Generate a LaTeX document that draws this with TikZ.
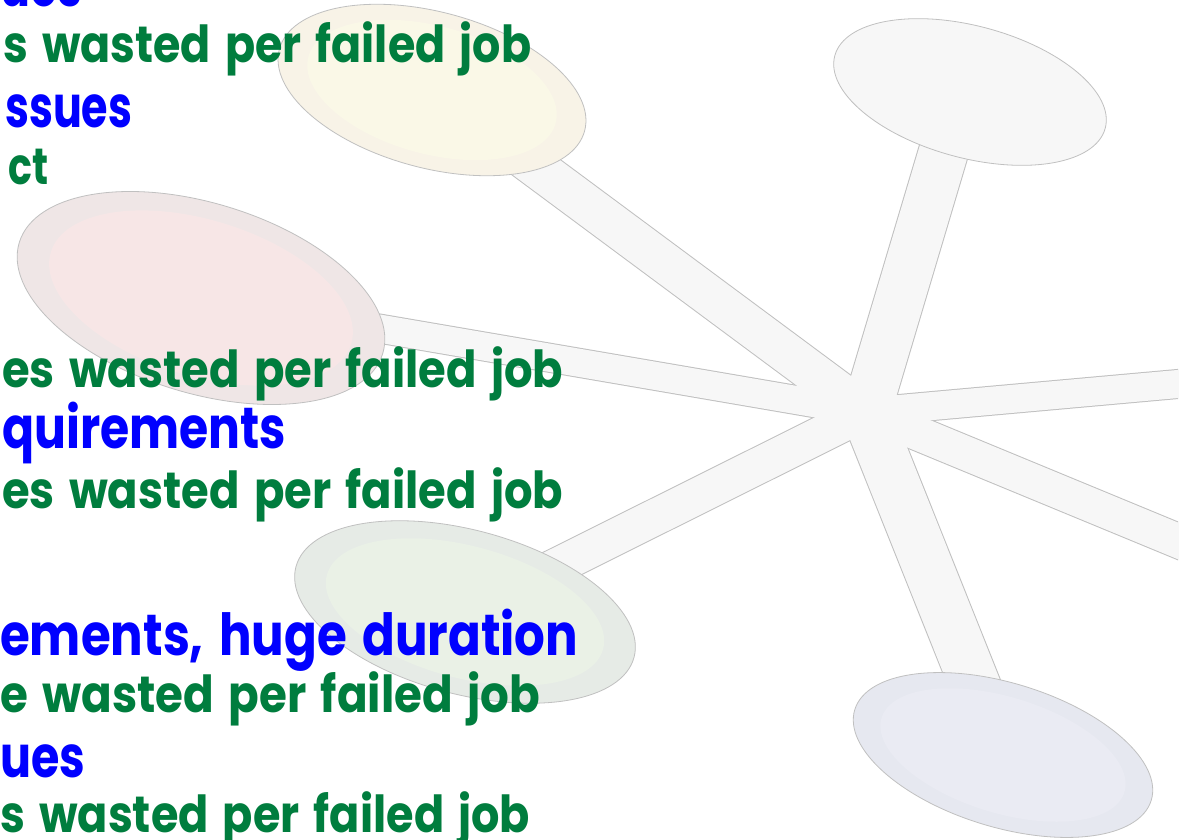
\documentclass[tikz,border=0pt]{standalone}
\usepackage{graphicx}
\usepackage{fontspec}
\usetikzlibrary{shapes.geometric}
\newfontfamily\handfont{Poppins}[WordSpace=1.5]

\definecolor{tgreen}{RGB}{0,125,62}
\definecolor{tblue}{RGB}{0,0,255}
\definecolor{spokefill}{RGB}{247,247,247}
\definecolor{spokeline}{RGB}{192,192,192}
\definecolor{yelout}{RGB}{248,243,231}
\definecolor{yelin}{RGB}{250,248,231}
\definecolor{pnkout}{RGB}{239,230,230}
\definecolor{pnkin}{RGB}{247,230,230}
\definecolor{grnout}{RGB}{230,235,230}
\definecolor{grnin}{RGB}{234,241,230}
\definecolor{gryout}{RGB}{247,247,247}
\definecolor{lavout}{RGB}{230,232,240}
\definecolor{lavin}{RGB}{234,235,243}

% a text line stretched or squeezed to a given width, height kept
\newcommand\fitline[2]{\resizebox{#1pt}{\height}{#2}}

\tikzset{
  blob/.style={ellipse, inner sep=0pt, outer sep=0pt, rotate=-15},
  blobrim/.style={blob, draw=spokeline, line width=0.8pt},
  hubedge/.style={draw=spokeline, line cap=butt},
  hubbody/.style={draw=spokefill, line cap=butt},
  bigline/.style={text=tblue, inner sep=0pt, anchor=base west,
    font=\handfont\bfseries\fontsize{58}{66}\selectfont},
  smallline/.style={text=tgreen, inner sep=0pt, anchor=base west,
    font=\handfont\bfseries\fontsize{51}{60}\selectfont},
}

\begin{document}
\begin{tikzpicture}[x=1pt, y=-1pt]
\useasboundingbox (0,0) rectangle (1189,840);
\fill[white] (0,0) rectangle (1189,840);

% hub and the far ends of its spokes
\coordinate (H) at (866,412);
\coordinate (cY) at (432,90);
\coordinate (cP) at (201,298);
\coordinate (cG) at (465,612);
\coordinate (cW) at (950,130);
\coordinate (cL) at (1003,755);
\coordinate (eR) at (1200,382);
\coordinate (eD) at (1200,550);

\begin{scope}
  \clip (0,0) rectangle (1178,840);
  \foreach \e/\wo in {cY/42, cP/30, cG/38, cW/51, cL/52, eR/30, eD/36}
    \draw[hubedge, line width=\wo pt] (H) -- (\e);
  \foreach \e/\wi in {cY/40, cP/28, cG/36, cW/49, cL/50, eR/28, eD/34}
    \draw[hubbody, line width=\wi pt] (H) -- (\e);
  \fill[spokefill] (H) circle (30pt);
\end{scope}

% coloured discs at the spoke ends
\node[blobrim, fill=yelout, minimum width=316pt, minimum height=156pt] (yel) at (cY) {};
\node[blob, fill=yelin, minimum width=256pt, minimum height=128pt] (yelI) at (cY) {};

\node[blobrim, fill=pnkout, minimum width=380pt, minimum height=190pt, rotate=-2] (pnk) at (cP) {};
\node[blob, fill=pnkin, minimum width=314pt, minimum height=156pt, rotate=-2] (pnkI) at (cP) {};

\node[blobrim, fill=grnout, minimum width=350pt, minimum height=164pt] (grn) at (cG) {};
\node[blob, fill=grnin, minimum width=286pt, minimum height=132pt] (grnI) at (cG) {};

\node[blobrim, fill=gryout, minimum width=280pt, minimum height=132pt] (gry) at (970,92) {};

\node[blobrim, fill=lavout, minimum width=310pt, minimum height=144pt, rotate=-2] (lav) at (cL) {};
\node[blob, fill=lavin, minimum width=254pt, minimum height=116pt, rotate=-2] (lavI) at (cL) {};

% text lines
\node[bigline]   (t1)  at (0,7)     {\fitline{82}{ues}};
\node[smallline] (t2)  at (3,63)    {\fitline{528}{s wasted per failed job}};
\node[bigline]   (t3)  at (5,128)   {\fitline{127}{ssues}};
\node[smallline] (t4)  at (8,185)   {\fitline{40}{ct}};
\node[smallline] (t5)  at (2,387)   {\fitline{561}{es wasted per failed job}};
\node[bigline]   (t6)  at (2,448)   {\fitline{284}{quirements}};
\node[smallline] (t7)  at (2,508)   {\fitline{561}{es wasted per failed job}};
\node[bigline]   (t8)  at (0,655)   {\fitline{578}{ements, huge duration}};
\node[smallline] (t9)  at (0,712)   {\fitline{540}{e wasted per failed job}};
\node[bigline]   (t10) at (0,777)   {\fitline{85}{ues}};
\node[smallline] (t11) at (0,832)   {\fitline{530}{s wasted per failed job}};
\end{tikzpicture}
\end{document}
